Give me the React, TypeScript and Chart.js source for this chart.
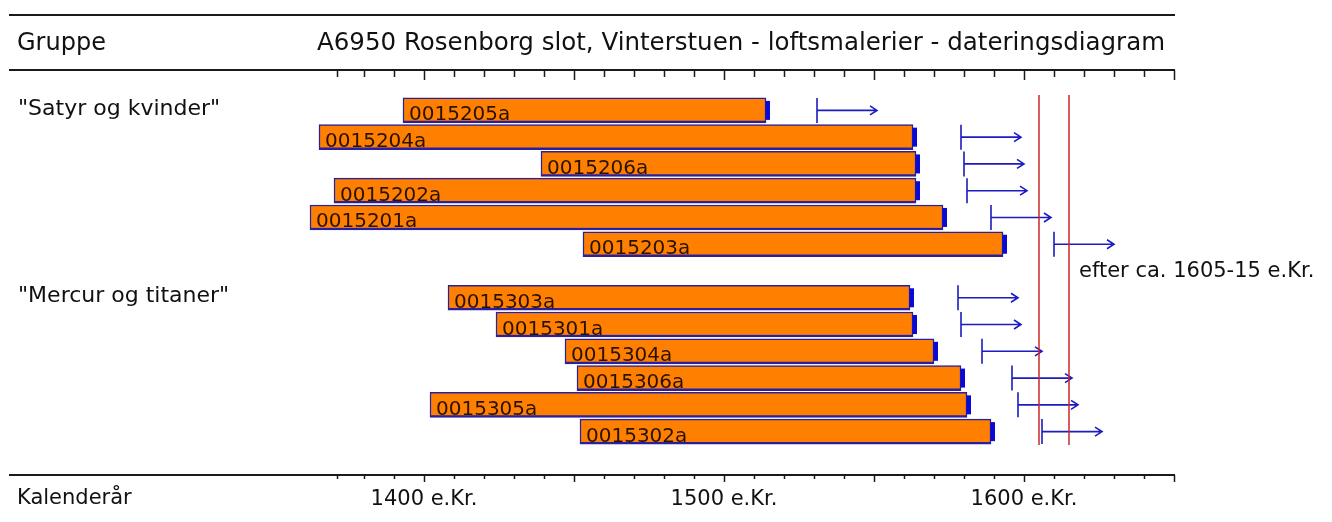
import React, { useEffect, useRef } from 'react';
import { Chart, registerables } from 'chart.js';

Chart.register(...registerables);

// ---- data ----
const sampleIds = [
  '0015205a', '0015204a', '0015206a', '0015202a', '0015201a', '0015203a',
  '',
  '0015303a', '0015301a', '0015304a', '0015306a', '0015305a', '0015302a',
];
const startYears = [1393, 1365, 1439, 1370, 1362, 1453, null, 1408, 1424, 1447, 1451, 1402, 1452];
const endYears = [1514, 1563, 1564, 1564, 1573, 1593, null, 1562, 1563, 1570, 1579, 1581, 1589];
const arrowFrom = [1531, 1579, 1580, 1581, 1589, 1610, null, 1578, 1579, 1586, 1596, 1598, 1606];
const arrowSpan = 20;
const groupLabels = ['"Satyr og kvinder"', '"Mercur og titaner"'];
const groupRows = [0, 7];
const fellingYears = [1605, 1615];
const fellingNote = 'efter ca. 1605-15 e.Kr.';
const noteRow = 6;
const yearLabels = [1400, 1500, 1600];
const yearSuffix = ' e.Kr.';
const axisStart = 1371;
const axisEnd = 1650;
const headerLeft = 'Gruppe';
const headerTitle = 'A6950 Rosenborg slot, Vinterstuen - loftsmalerier - dateringsdiagram';
const footerLeft = 'Kalenderår';

const FONT = '"DejaVu Sans", Verdana, sans-serif';

const overlay = {
  id: 'overlay',
  afterDatasetsDraw(chart: any) {
    const { ctx, chartArea } = chart;
    const xs = chart.scales.x;
    const meta = chart.getDatasetMeta(0);
    const half = 12.5;
    ctx.save();

    // sapwood caps + labels
    meta.data.forEach((bar: any, i: number) => {
      if (startYears[i] == null) return;
      const p = bar.getProps(['x', 'base', 'y'], true);
      ctx.fillStyle = '#0a0ad4';
      ctx.fillRect(p.x - 0.5, p.y - 9.5, 4.5, 19);
      ctx.fillStyle = '#2a1200';
      ctx.font = `20px ${FONT}`;
      ctx.textAlign = 'left';
      ctx.textBaseline = 'alphabetic';
      ctx.fillText(sampleIds[i], p.base + 6, p.y + 10);
    });

    // arrows
    ctx.strokeStyle = '#1c1cc0';
    ctx.lineWidth = 1.6;
    meta.data.forEach((bar: any, i: number) => {
      const a = arrowFrom[i];
      if (a == null) return;
      const cy = bar.getProps(['y'], true).y;
      const x0 = xs.getPixelForValue(a);
      const x1 = xs.getPixelForValue(a + arrowSpan);
      ctx.beginPath();
      ctx.moveTo(x0, cy - half);
      ctx.lineTo(x0, cy + half);
      ctx.moveTo(x0, cy);
      ctx.lineTo(x1, cy);
      ctx.moveTo(x1 - 7, cy - 4.5);
      ctx.lineTo(x1, cy);
      ctx.lineTo(x1 - 7, cy + 4.5);
      ctx.stroke();
    });

    // felling date lines
    ctx.strokeStyle = '#c8282a';
    ctx.lineWidth = 1.5;
    fellingYears.forEach((yr) => {
      const px = xs.getPixelForValue(yr);
      ctx.beginPath();
      ctx.moveTo(px, chartArea.top - 2);
      ctx.lineTo(px, chartArea.bottom);
      ctx.stroke();
    });

    // frame lines
    const left = chartArea.left;
    const right = xs.getPixelForValue(axisEnd);
    ctx.strokeStyle = '#1a1a1a';
    ctx.lineWidth = 2;
    [15, 70, 475].forEach((yy) => {
      ctx.beginPath();
      ctx.moveTo(left - 1, yy);
      ctx.lineTo(right + 1, yy);
      ctx.stroke();
    });

    // ticks
    const tickYears: number[] = [axisStart];
    for (let yr = Math.ceil((axisStart + 1) / 10) * 10; yr <= axisEnd; yr += 10) tickYears.push(yr);
    ctx.lineWidth = 1.5;
    tickYears.forEach((yr) => {
      const px = Math.round(xs.getPixelForValue(yr)) + 0.5;
      const major = yr % 50 === 0;
      ctx.beginPath();
      ctx.moveTo(px, 70);
      ctx.lineTo(px, 70 + (major ? 10 : 7));
      ctx.moveTo(px, 475);
      ctx.lineTo(px, 475 + (major ? 7 : 4));
      ctx.stroke();
    });

    // texts
    ctx.fillStyle = '#111';
    ctx.textBaseline = 'middle';
    ctx.textAlign = 'left';
    ctx.font = `24px ${FONT}`;
    ctx.fillText(headerLeft, 17, 44);
    ctx.font = `24.5px ${FONT}`;
    ctx.fillText(headerTitle, 317, 44);
    ctx.font = `21px ${FONT}`;
    ctx.fillText(footerLeft, 17, 499);

    ctx.font = `22px ${FONT}`;
    groupLabels.forEach((g, k) => {
      const cy = meta.data[groupRows[k]].getProps(['y'], true).y;
      ctx.fillText(g, 18, cy - 1);
    });

    ctx.font = `21px ${FONT}`;
    const noteY = chart.scales.y.getPixelForValue(noteRow);
    ctx.fillText(fellingNote, xs.getPixelForValue(fellingYears[1]) + 10, noteY + 1);

    ctx.font = `21px ${FONT}`;
    ctx.textAlign = 'center';
    yearLabels.forEach((yr) => {
      ctx.fillText(yr + yearSuffix, xs.getPixelForValue(yr), 500);
    });

    ctx.restore();
  },
};

export default function App() {
  const ref = useRef<HTMLCanvasElement>(null);
  useEffect(() => {
    if (!ref.current) return;
    const data = startYears.map((s, i) => (s == null ? null : [s, endYears[i] as number]));
    const chart = new Chart(ref.current, {
      type: 'bar',
      data: {
        labels: sampleIds,
        datasets: [
          {
            data: data as any,
            backgroundColor: '#ff8000',
            borderColor: '#2a1f9c',
            borderWidth: { top: 1.5, left: 1.5, right: 1.5, bottom: 2.5 } as any,
            borderSkipped: false,
            barThickness: 25,
          },
        ],
      },
      options: {
        indexAxis: 'y',
        responsive: false,
        animation: false,
        layout: { padding: { left: 10, right: 158, top: 97, bottom: 77 } },
        scales: {
          x: { type: 'linear', min: 1262, max: axisEnd, display: false },
          y: { display: false },
        },
        plugins: { legend: { display: false }, tooltip: { enabled: false } },
      },
      plugins: [overlay],
    });
    return () => chart.destroy();
  }, []);
  return (
    <div style={{ position: 'absolute', left: 0, top: 0, width: 1332, height: 522, background: '#fff' }}>
      <canvas ref={ref} width={1332} height={522} style={{ display: 'block' }} />
    </div>
  );
}
